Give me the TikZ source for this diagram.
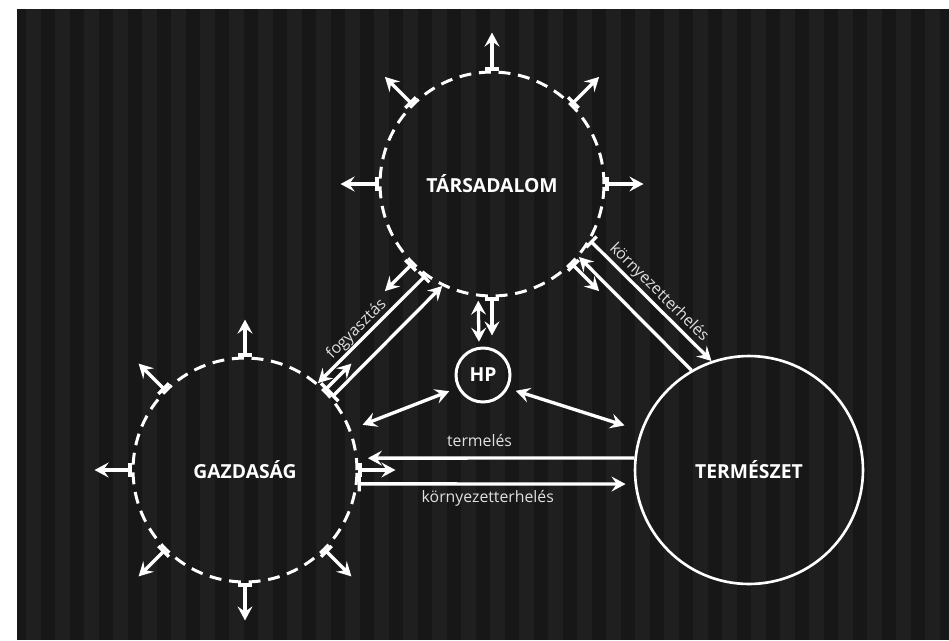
\documentclass[tikz,border=0pt]{standalone}
\usepackage{fontspec}
\setmainfont{Open Sans}
\usepackage{xcolor}
\usepackage{tikz}
\usetikzlibrary{arrows.meta,calc}

\definecolor{backdrop}{HTML}{171717}
\definecolor{glyphcol}{HTML}{1F1F1F}
\definecolor{flowgray}{HTML}{E0E0E0}

\begin{document}
\begin{tikzpicture}[
    x=0.02cm, y=-0.02cm,
    >={Stealth[length=8pt, width=8.5pt, inset=3pt]},
    realm/.style={circle, draw=white, line width=1.5pt, minimum size=4.48cm, inner sep=0pt, text=white, font=\bfseries\fontsize{11}{13}\selectfont},
    weak/.style={realm, line width=1.7pt, dash pattern=on 6.8pt off 4.4pt},
    spike/.style={draw=white, line width=1.9pt, {Bar[width=8.5pt]}->},
    link/.style={draw=white, line width=1.9pt, ->},
    dlink/.style={draw=white, line width=1.9pt, <->},
    flowlabel/.style={text=flowgray, inner sep=1.5pt, font=\fontsize{9}{10}\selectfont},
]
\useasboundingbox (0,0) rectangle (949,640);
\fill[backdrop] (17,9) rectangle (949,640);
\foreach \c in {0,...,31}
    \fill[glyphcol] ({26+29*\c},9) rectangle ({41+29*\c},640);

\node[weak] (tars) at (492,184) {TÁRSADALOM};
\node[weak] (gazd) at (245,470) {GAZDASÁG};
\node[realm, minimum size=4.56cm] (term) at (749,470) {TERMÉSZET};
\node[realm, minimum size=1.08cm, line width=1.7pt] (hp) at (483,375) {HP};

\foreach \a in {0,45,...,315}{
    \path (tars.\a) ++(\a:0.76cm) coordinate (tars-out-\a);
    \draw[spike] (tars.\a) -- (tars-out-\a);
    \path (gazd.\a) ++(\a:0.74cm) coordinate (gazd-out-\a);
    \draw[spike] (gazd.\a) -- (gazd-out-\a);
}

\draw[spike] (tars.234) -- node[flowlabel, sloped, above=-1pt, pos=0.57]{fogyasztás} (gazd.50);
\draw[spike] (gazd.40) -- (tars.244);
\draw[spike] (tars.330) -- node[flowlabel, sloped, above=-0.5pt]{környezetterhelés} (term.109);
\draw[link] (term.120) -- (tars.320);
\draw[link, shorten >=0.2cm] (term.174) -- node[flowlabel, above=4pt, pos=0.56]{termelés} (gazd.6);
\draw[spike, shorten >=0.18cm] (gazd.353) -- node[flowlabel, below=1.5pt, pos=0.47]{környezetterhelés} (term.187);

\draw[dlink, shorten <=0.25cm, shorten >=0.18cm] (gazd.21) -- (hp.207);
\draw[dlink, shorten <=0.16cm, shorten >=0.34cm] (hp.332) -- (term.160);
\draw[dlink, shorten <=0.08cm, shorten >=0.1cm] (tars.263) -- (hp.98);
\end{tikzpicture}
\end{document}
